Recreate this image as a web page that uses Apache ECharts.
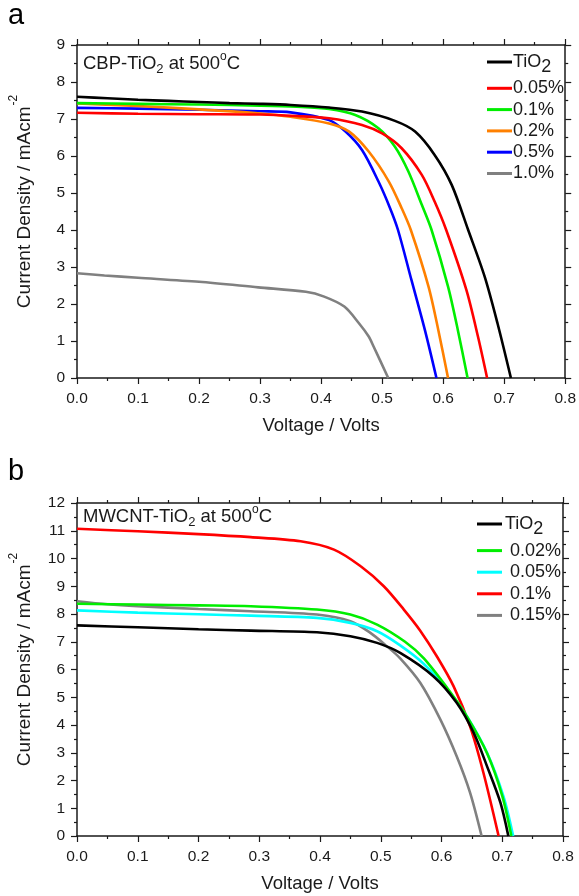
<!DOCTYPE html>
<html><head><meta charset="utf-8">
<script src="https://cdn.jsdelivr.net/npm/echarts@6.0.0/dist/echarts.min.js"></script>
<style>html,body{margin:0;padding:0;background:#fff}#c{width:579px;height:896px}</style>
</head><body><div id="c"></div>
<script>
// ---------- Panel a : CBP-TiO2 at 500 C ----------
var aNames = ['TiO2', '0.05%', '0.1%', '0.2%', '0.5%', '1.0%'];
var aColors = ['#000000', '#ff0000', '#00ee00', '#ff8000', '#0000ff', '#808080'];
var aTiO2V = [0, 0.05, 0.1, 0.15, 0.2, 0.25, 0.3, 0.35, 0.413, 0.467, 0.521, 0.554, 0.586, 0.614, 0.641, 0.668, 0.689, 0.711];
var aTiO2J = [7.60, 7.56, 7.52, 7.49, 7.46, 7.43, 7.41, 7.38, 7.31, 7.20, 6.95, 6.66, 6.03, 5.22, 4.0, 2.74, 1.48, 0];
var a005V = [0, 0.1, 0.2, 0.3, 0.36, 0.413, 0.467, 0.5, 0.532, 0.565, 0.586, 0.605, 0.638, 0.657, 0.672];
var a005J = [7.17, 7.14, 7.13, 7.12, 7.08, 7.02, 6.84, 6.61, 6.21, 5.49, 4.77, 4.0, 2.38, 1.12, 0];
var a01V = [0, 0.1, 0.2, 0.3, 0.36, 0.413, 0.456, 0.494, 0.521, 0.543, 0.565, 0.581, 0.608, 0.624, 0.64];
var a01J = [7.43, 7.41, 7.39, 7.36, 7.33, 7.27, 7.11, 6.75, 6.25, 5.58, 4.68, 4.0, 2.47, 1.3, 0];
var a02V = [0, 0.1, 0.2, 0.3, 0.35, 0.413, 0.446, 0.478, 0.511, 0.532, 0.547, 0.576, 0.592, 0.608];
var a02J = [7.42, 7.35, 7.26, 7.15, 7.06, 6.88, 6.66, 6.12, 5.31, 4.59, 4.0, 2.47, 1.3, 0];
var a05V = [0, 0.1, 0.2, 0.3, 0.35, 0.413, 0.44, 0.467, 0.494, 0.513, 0.526, 0.548, 0.57, 0.589];
var a05J = [7.30, 7.28, 7.25, 7.21, 7.18, 6.97, 6.66, 6.16, 5.31, 4.59, 4.0, 2.65, 1.30, 0];
var a10V = [0, 0.045, 0.1, 0.2, 0.297, 0.375, 0.405, 0.438, 0.462, 0.478, 0.486, 0.51];
var a10J = [2.83, 2.77, 2.71, 2.6, 2.45, 2.33, 2.2, 1.93, 1.48, 1.12, 0.85, 0];

// ---------- Panel b : MWCNT-TiO2 at 500 C ----------
var bNames = ['TiO2', '0.02%', '0.05%', '0.1%', '0.15%'];
var bColors = ['#000000', '#00ee00', '#00ffff', '#ff0000', '#808080'];
var bTiO2V = [0, 0.1, 0.2, 0.286, 0.395, 0.45, 0.494, 0.532, 0.587, 0.625, 0.653, 0.675, 0.697, 0.71];
var bTiO2J = [7.59, 7.52, 7.45, 7.40, 7.34, 7.2, 6.96, 6.6, 5.75, 4.8, 3.72, 2.51, 1.2, 0];
var b002V = [0, 0.1, 0.2, 0.286, 0.395, 0.45, 0.494, 0.54, 0.571, 0.614, 0.642, 0.675, 0.70, 0.715];
var b002J = [8.37, 8.34, 8.31, 8.28, 8.16, 7.98, 7.62, 7.0, 6.4, 5.2, 4.3, 2.98, 1.45, 0];
var b005V = [0, 0.1, 0.2, 0.286, 0.395, 0.45, 0.494, 0.532, 0.571, 0.614, 0.642, 0.675, 0.702, 0.718];
var b005J = [8.13, 8.05, 7.99, 7.94, 7.86, 7.68, 7.38, 6.87, 6.2, 5.16, 4.31, 3.0, 1.43, 0];
var b01V = [0, 0.1, 0.2, 0.286, 0.368, 0.423, 0.467, 0.505, 0.538, 0.565, 0.593, 0.62, 0.647, 0.669, 0.694];
var b01J = [11.07, 10.98, 10.88, 10.77, 10.62, 10.32, 9.72, 9.0, 8.16, 7.40, 6.45, 5.39, 3.95, 2.28, 0];
var b015V = [0, 0.05, 0.1, 0.2, 0.286, 0.395, 0.45, 0.483, 0.51, 0.532, 0.565, 0.598, 0.625, 0.647, 0.666];
var b015J = [8.46, 8.35, 8.28, 8.18, 8.1, 7.98, 7.74, 7.32, 6.84, 6.4, 5.52, 4.2, 2.87, 1.56, 0];

var xTicks = [0, 0.8, 0.1];
var aYTicks = [0, 9, 1];
var bYTicks = [0, 12, 1];

var aV = [aTiO2V, a005V, a01V, a02V, a05V, a10V];
var aJ = [aTiO2J, a005J, a01J, a02J, a05J, a10J];
var bV = [bTiO2V, b002V, b005V, b01V, b015V];
var bJ = [bTiO2J, b002J, b005J, b01J, b015J];

function zip(v, j) { return v.map(function (x, i) { return [x, j[i]]; }); }

var FONT = 'Liberation Sans, Arial, sans-serif';
var INK = '#1a1a1a';

function xAx(grid, pos, showLab, name) {
  return {
    type: 'value', gridIndex: grid, position: pos,
    min: xTicks[0], max: xTicks[1], interval: xTicks[2],
    axisLine: { show: true, onZero: false, lineStyle: { color: INK, width: 1.5 } },
    axisTick: { show: true, inside: false, length: 6, lineStyle: { color: INK, width: 1.2 } },
    minorTick: { show: true, splitNumber: 2, length: 3, lineStyle: { color: INK, width: 1.2 } },
    splitLine: { show: false },
    axisLabel: { show: showLab, margin: 13, color: INK, fontSize: 15.5, fontFamily: FONT,
      formatter: function (v) { return v.toFixed(1); } },
    name: name || '', nameLocation: 'middle', nameGap: 38,
    nameTextStyle: { color: INK, fontSize: 18.5, fontFamily: FONT }
  };
}
function yAx(grid, pos, ticks, showLab, withName) {
  return {
    type: 'value', gridIndex: grid, position: pos,
    min: ticks[0], max: ticks[1], interval: ticks[2],
    axisLine: { show: true, onZero: false, lineStyle: { color: INK, width: 1.5 } },
    axisTick: { show: true, inside: false, length: 6, lineStyle: { color: INK, width: 1.2 } },
    minorTick: { show: true, splitNumber: 2, length: 3, lineStyle: { color: INK, width: 1.2 } },
    splitLine: { show: false },
    axisLabel: { show: showLab, margin: 12, color: INK, fontSize: 15.5, fontFamily: FONT },
    name: withName ? '{n|Current Density / mAcm}{s|-2}' : '',
    nameLocation: 'middle', nameGap: 43, nameRotate: 90,
    nameTextStyle: { color: INK, fontFamily: FONT, padding: [0, 0, 0, 20],
      rich: { n: { fontSize: 19, fontFamily: FONT, color: INK, lineHeight: 26, verticalAlign: 'bottom' },
              s: { fontSize: 12, fontFamily: FONT, color: INK, lineHeight: 26, verticalAlign: 'top', padding: [0, 0, 0, 1] } } }
  };
}

var series = [];
aNames.forEach(function (n, i) {
  series.push({ type: 'line', name: 'a:' + n, xAxisIndex: 0, yAxisIndex: 0, data: zip(aV[i], aJ[i]),
    color: aColors[i], showSymbol: false, smooth: 0.3, lineStyle: { width: 2.6, color: aColors[i] }, z: 10 - i });
});
bNames.forEach(function (n, i) {
  series.push({ type: 'line', name: 'b:' + n, xAxisIndex: 2, yAxisIndex: 2, data: zip(bV[i], bJ[i]),
    color: bColors[i], showSymbol: false, smooth: 0.3, lineStyle: { width: 2.6, color: bColors[i] }, z: 10 - i });
});

function legendFmt(name) {
  var t = name.slice(2);
  if (t === 'TiO2') return '{n|TiO}{s|2}';
  return '{n|' + (name[0] === 'b' ? ' ' : '') + t + '}';
}
var legRich = {
  n: { fontSize: 18, fontFamily: FONT, color: INK, lineHeight: 18, verticalAlign: 'bottom' },
  s: { fontSize: 18, fontFamily: FONT, color: INK, lineHeight: 18, verticalAlign: 'bottom', padding: [0, 0, -5, 0] }
};

var option = {
  backgroundColor: '#ffffff',
  animation: false,
  grid: [
    { left: 76, top: 45, width: 492, height: 333 },
    { left: 76, top: 503, width: 487, height: 333 }
  ],
  xAxis: [ xAx(0, 'bottom', true, 'Voltage / Volts'), xAx(0, 'top', false), xAx(1, 'bottom', true, 'Voltage / Volts'), xAx(1, 'top', false) ],
  yAxis: [ yAx(0, 'left', aYTicks, true, true), yAx(0, 'right', aYTicks, false, false),
           yAx(1, 'left', bYTicks, true, true), yAx(1, 'right', bYTicks, false, false) ],
  legend: [
    { orient: 'vertical', left: 482, top: 48, itemWidth: 25, itemHeight: 3, icon: 'rect', itemGap: 3.3,
      data: aNames.map(function (n) { return 'a:' + n; }), formatter: legendFmt,
      textStyle: { rich: legRich, padding: [0, 0, 0, -4] }, selectedMode: false },
    { orient: 'vertical', left: 472, top: 510, itemWidth: 25, itemHeight: 3, icon: 'rect', itemGap: 3.6,
      data: bNames.map(function (n) { return 'b:' + n; }), formatter: legendFmt,
      textStyle: { rich: legRich, padding: [0, 0, 0, -2] }, selectedMode: false }
  ],
  graphic: [
    { type: 'text', left: 8, top: 1, style: { text: 'a', fontSize: 29, fontFamily: FONT, fill: '#000' } },
    { type: 'text', left: 8, top: 457, style: { text: 'b', fontSize: 29, fontFamily: FONT, fill: '#000' } },
    { type: 'text', left: 83, top: 51, style: {
        text: '{n|CBP-TiO}{sub|2}{n| at 500}{sup|o}{n|C}', fill: INK,
        rich: { n: { fontSize: 18.5, fontFamily: FONT, fill: INK, lineHeight: 25, verticalAlign: 'middle' },
                sub: { fontSize: 13, fontFamily: FONT, fill: INK, lineHeight: 25, verticalAlign: 'bottom' },
                sup: { fontSize: 12, fontFamily: FONT, fill: INK, lineHeight: 25, verticalAlign: 'top' } } } },
    { type: 'text', left: 83, top: 504, style: {
        text: '{n|MWCNT-TiO}{sub|2}{n| at 500}{sup|o}{n|C}', fill: INK,
        rich: { n: { fontSize: 18.5, fontFamily: FONT, fill: INK, lineHeight: 25, verticalAlign: 'middle' },
                sub: { fontSize: 13, fontFamily: FONT, fill: INK, lineHeight: 25, verticalAlign: 'bottom' },
                sup: { fontSize: 12, fontFamily: FONT, fill: INK, lineHeight: 25, verticalAlign: 'top' } } } }
  ],
  series: series
};
var chart = echarts.init(document.getElementById('c'), null, { renderer: 'canvas' });
chart.setOption(option);
</script>
</body></html>
